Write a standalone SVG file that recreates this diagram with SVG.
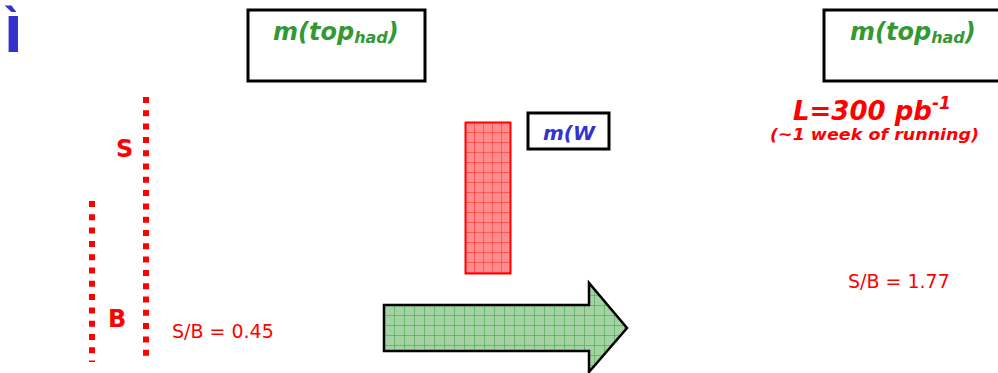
<svg xmlns="http://www.w3.org/2000/svg" width="998" height="373" viewBox="0 0 998 373">
<style>
.ttl{font-family:"DejaVu Sans",Verdana,sans-serif;font-weight:bold;font-style:italic;}
.reg{font-family:"DejaVu Sans",Verdana,sans-serif;fill:#ff0000;}
.box{fill:#ffffff;stroke:#000000;stroke-width:3;}
.dots{stroke:#ff0000;stroke-width:6;stroke-dasharray:6 7.3;fill:none;}
</style>
<defs>
<pattern id="redgrid" x="465" y="122" width="9" height="10" patternUnits="userSpaceOnUse">
<rect width="9" height="10" fill="#ff8c8c"/>
<path d="M0 0H9M0 0V10" stroke="#ff2020" stroke-width="1"/>
</pattern>
<pattern id="greengrid" x="384" y="305" width="10" height="10" patternUnits="userSpaceOnUse">
<rect width="10" height="10" fill="#a3d3a3"/>
<path d="M0 0H10M0 0V10" stroke="#3a9a3a" stroke-width="1"/>
</pattern>
</defs>
<rect width="998" height="373" fill="#ffffff"/>
<text x="4" y="52" font-family="DejaVu Sans,sans-serif" font-weight="bold" font-size="50" fill="#3333cc">Ì</text>
<g id="box-top-left">
<rect class="box" x="248" y="10" width="177" height="71"/>
<text class="ttl" x="273" y="40" font-size="24" fill="#339933">m(top<tspan font-size="16" dy="3">had</tspan><tspan dy="-3">)</tspan></text>
</g>
<g id="box-top-right">
<rect class="box" x="824" y="10" width="180" height="71"/>
<text class="ttl" x="850" y="40" font-size="24" fill="#339933">m(top<tspan font-size="16" dy="3">had</tspan><tspan dy="-3">)</tspan></text>
</g>
<g id="lumi">
<text class="ttl" x="793" y="120" font-size="26" fill="#ff0000">L=300 pb<tspan font-size="17" dy="-11">-1</tspan></text>
<text class="ttl" x="770" y="140" font-size="16" fill="#ff0000" textLength="209" lengthAdjust="spacingAndGlyphs">(~1 week of running)</text>
</g>
<g id="box-mw">
<rect class="box" x="528" y="113" width="81" height="36"/>
<text class="ttl" x="543" y="140" font-size="20" fill="#3333cc">m(W</text>
</g>
<g id="red-bar">
<rect x="465.5" y="122.5" width="45" height="151" fill="url(#redgrid)" stroke="#ff0000" stroke-width="2"/>
</g>
<g id="green-arrow">
<path d="M384 305H589V283L627 328L589 372V351H384Z" fill="url(#greengrid)" stroke="#000000" stroke-width="2.5" stroke-linejoin="miter"/>
</g>
<g id="lines">
<line class="dots" x1="146" y1="97" x2="146" y2="357"/>
<line class="dots" x1="92" y1="201" x2="92" y2="362"/>
</g>
<g id="labels">
<text class="reg" x="116" y="157" font-size="24" font-weight="bold">S</text>
<text class="reg" x="108" y="327" font-size="24" font-weight="bold">B</text>
<text class="reg" x="172" y="338" font-size="19">S/B = 0.45</text>
<text class="reg" x="848" y="288" font-size="19">S/B = 1.77</text>
</g>
</svg>
